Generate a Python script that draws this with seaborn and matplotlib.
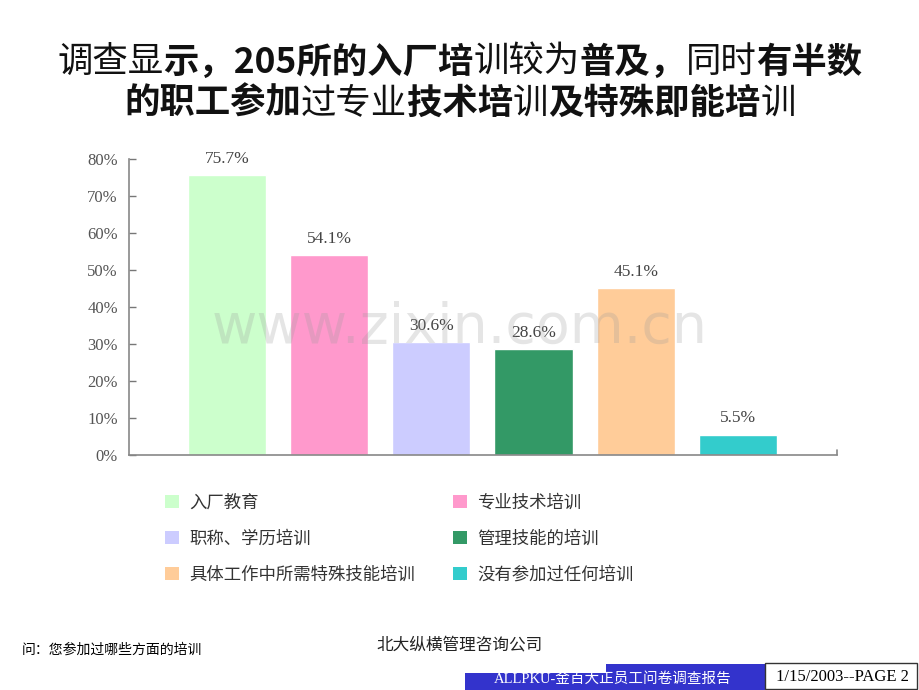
import matplotlib
matplotlib.use("Agg")
import matplotlib.pyplot as plt
from matplotlib.patches import Patch, Rectangle
import seaborn as sns
import pandas as pd

categories = ["入厂教育", "专业技术培训", "职称、学历培训", "管理技能的培训",
              "具体工作中所需特殊技能培训", "没有参加过任何培训"]
values = [75.7, 54.1, 30.6, 28.6, 45.1, 5.5]
colors = ["#CCFFCC", "#FF99CC", "#CCCCFF", "#339966", "#FFCC99", "#33CCCC"]
y_ticks = [0, 10, 20, 30, 40, 50, 60, 70, 80]

title_line1 = [("调查显", False), ("示，205所的入厂培", True), ("训较为", False),
               ("普及，", True), ("同时", False), ("有半数", True)]
title_line2 = [("的职工参加", True), ("过专业", False), ("技术培", True),
               ("训", False), ("及特殊即能培", True), ("训", False)]

sns.set_theme(style="white")
plt.rcParams["font.family"] = ["Noto Sans CJK SC", "DejaVu Sans"]
serif = ["Liberation Serif", "Noto Sans CJK SC"]

df = pd.DataFrame({"cat": categories, "val": values})

fig = plt.figure(figsize=(9.2, 6.9), dpi=100)
ax = fig.add_axes([0.1402, 0.3406, 0.7696, 0.429])

sns.barplot(data=df, x="cat", y="val", hue="cat", palette=colors,
            order=categories, hue_order=categories, width=0.765,
            saturation=1, legend=False, ax=ax)

ax.set_ylim(0, 80)
ax.set_xlim(-0.96, 5.97)
ax.set_yticks(y_ticks)
ax.set_yticklabels([f"{t}%" for t in y_ticks], family=serif, fontsize=12, color="#555555")
ax.set_xticks([])
ax.set_xlabel("")
ax.set_ylabel("")
ax.tick_params(axis="y", direction="in", length=5, width=1, color="#777777", pad=8, left=True)
for s in ["top", "right"]:
    ax.spines[s].set_visible(False)
for s in ["left", "bottom"]:
    ax.spines[s].set_color("#888888")
    ax.spines[s].set_linewidth(1.2)
# small end tick on the right of the x axis
ax.plot([1, 1], [0, 0.018], transform=ax.transAxes, color="#888888", lw=1.2, clip_on=False)

for i, v in enumerate(values):
    ax.text(i, v + 2.2, f"{v}%", ha="center", va="bottom", family=serif,
            fontsize=12.5, color="#444444")

# watermark
fig.text(0.5, 1 - 328 / 690, "www.zixin.com.cn", ha="center", va="center",
         fontsize=40, color="#999999", alpha=0.25, family="DejaVu Sans", zorder=0)

# title drawn segment by segment (mixed weights)
renderer = fig.canvas.get_renderer()


def draw_line(segments, y_px):
    texts = []
    for s, bold in segments:
        t = fig.text(0, 1 - y_px / 690, s, fontsize=25.5, va="center", ha="left",
                     fontweight="bold" if bold else "normal", color="#111111")
        texts.append(t)
    widths = [t.get_window_extent(renderer).width for t in texts]
    x = (920 - sum(widths)) / 2
    for t, w in zip(texts, widths):
        t.set_x(x / 920)
        x += w


draw_line(title_line1, 62)
draw_line(title_line2, 103)

# legend
handles = [Patch(facecolor=c, edgecolor="none") for c in colors]
order = [0, 2, 4, 1, 3, 5]
fig.legend([handles[i] for i in order], [categories[i] for i in order],
           ncol=2, loc="upper left", bbox_to_anchor=(149 / 920, 1 - 479 / 690),
           frameon=False, prop={"family": serif, "size": 12.5},
           handlelength=0.8, handleheight=0.8, handletextpad=0.6,
           labelspacing=1.12, columnspacing=2.2, labelcolor="#333333")

# footer
fig.text(22 / 920, 1 - 650 / 690, "问：您参加过哪些方面的培训", fontsize=10,
         va="center", ha="left", color="black")
fig.text(460 / 920, 1 - 645 / 690, "北大纵横管理咨询公司", fontsize=12,
         va="center", ha="center", color="#222222")
fig.patches.append(Rectangle((465 / 920, 0), 300 / 920, 17 / 690, transform=fig.transFigure,
                             facecolor="#3333CC", edgecolor="none"))
fig.patches.append(Rectangle((606 / 920, 0), 159 / 920, 26 / 690, transform=fig.transFigure,
                             facecolor="#3333CC", edgecolor="none"))
fig.text(613 / 920, 1 - 679 / 690, "ALLPKU-金百大正员工问卷调查报告", fontsize=10.5,
         va="center", ha="center", color="white", family=serif, zorder=3)
fig.patches.append(Rectangle((465 / 920, 17 / 690), 141 / 920, 10 / 690,
                             transform=fig.transFigure, facecolor="white",
                             edgecolor="none", zorder=4))
fig.patches.append(Rectangle((765 / 920, 0.002), 152 / 920, 26 / 690, transform=fig.transFigure,
                             facecolor="white", edgecolor="#333333", lw=1))
fig.text(842 / 920, 1 - 677 / 690, "1/15/2003--PAGE 2", fontsize=12,
         va="center", ha="center", color="black", family=serif)

fig.savefig("out.png", dpi=100)
